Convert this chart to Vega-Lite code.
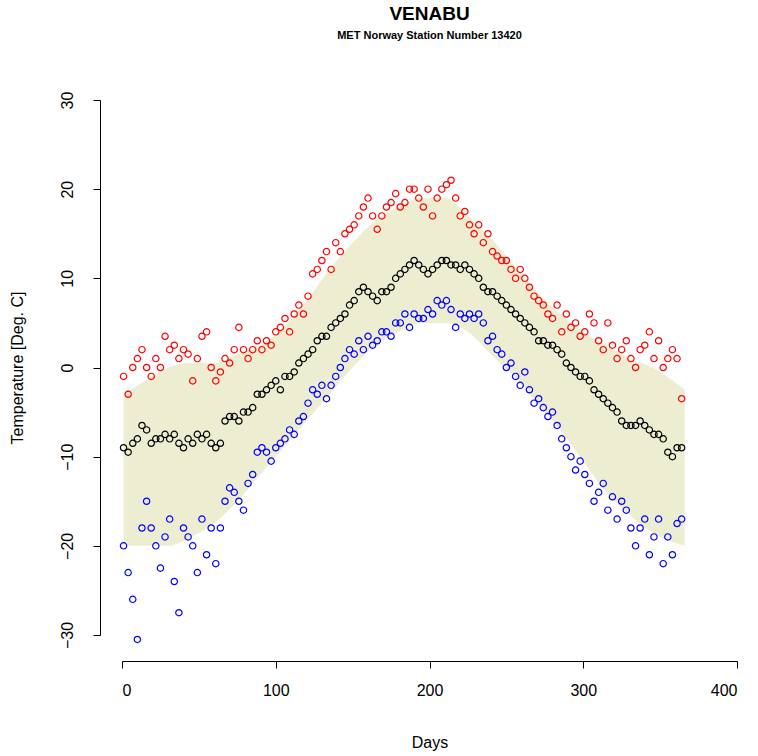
{
  "$schema": "https://vega.github.io/schema/vega-lite/v6.json",
  "width": 615,
  "height": 535,
  "autosize": {"type": "none"},
  "padding": {"left": 122, "top": 100, "right": 21, "bottom": 121},
  "title": {
    "text": "VENABU",
    "subtitle": "MET Norway Station Number 13420",
    "anchor": "middle",
    "offset": 50,
    "font": "Liberation Sans",
    "fontSize": 19,
    "fontWeight": "bold",
    "subtitleFont": "Liberation Sans",
    "subtitleFontSize": 11,
    "subtitleFontWeight": "bold",
    "subtitlePadding": 6,
    "color": "black",
    "subtitleColor": "black"
  },
  "datasets": {
    "band": [
      {"d": 1, "bl": -20, "bh": -3},
      {"d": 15, "bl": -20, "bh": -1.5},
      {"d": 30, "bl": -20, "bh": 0},
      {"d": 45, "bl": -19, "bh": 0.5},
      {"d": 60, "bl": -17.5, "bh": 0.5},
      {"d": 75, "bl": -15, "bh": 1.5},
      {"d": 90, "bl": -12, "bh": 2.5},
      {"d": 105, "bl": -9, "bh": 4.5},
      {"d": 120, "bl": -6, "bh": 7.5},
      {"d": 135, "bl": -3, "bh": 11},
      {"d": 150, "bl": 0, "bh": 14},
      {"d": 165, "bl": 2.5, "bh": 16.5},
      {"d": 180, "bl": 4, "bh": 18},
      {"d": 195, "bl": 5, "bh": 19},
      {"d": 210, "bl": 5, "bh": 19},
      {"d": 225, "bl": 4, "bh": 17},
      {"d": 240, "bl": 1.5, "bh": 14.5},
      {"d": 255, "bl": -1, "bh": 11.5},
      {"d": 270, "bl": -4, "bh": 8.5},
      {"d": 285, "bl": -7, "bh": 6},
      {"d": 300, "bl": -10.5, "bh": 4},
      {"d": 315, "bl": -14, "bh": 2.5},
      {"d": 330, "bl": -16.5, "bh": 1},
      {"d": 345, "bl": -18.5, "bh": 0},
      {"d": 366, "bl": -20, "bh": -2.5}
    ],
    "obs": [
      {"d":1,"hi":-1,"mn":-9,"lo":-20},{"d":4,"hi":-3,"mn":-9.5,"lo":-23},{"d":7,"hi":0,"mn":-8.5,"lo":-26},
      {"d":10,"hi":1,"mn":-8,"lo":-30.5},{"d":13,"hi":2,"mn":-6.5,"lo":-18},{"d":16,"hi":0,"mn":-7,"lo":-15},
      {"d":19,"hi":-1,"mn":-8.5,"lo":-18},{"d":22,"hi":1,"mn":-8,"lo":-20},{"d":25,"hi":0,"mn":-8,"lo":-22.5},
      {"d":28,"hi":3.5,"mn":-7.5,"lo":-19},{"d":31,"hi":2,"mn":-8,"lo":-17},{"d":34,"hi":2.5,"mn":-7.5,"lo":-24},
      {"d":37,"hi":1,"mn":-8.5,"lo":-27.5},{"d":40,"hi":2,"mn":-9,"lo":-18},{"d":43,"hi":1.5,"mn":-8,"lo":-19},
      {"d":46,"hi":-1.5,"mn":-8.5,"lo":-20},{"d":49,"hi":1,"mn":-7.5,"lo":-23},{"d":52,"hi":3.5,"mn":-8,"lo":-17},
      {"d":55,"hi":4,"mn":-7.5,"lo":-21},{"d":58,"hi":0,"mn":-8.5,"lo":-18},{"d":61,"hi":-1.5,"mn":-9,"lo":-22},
      {"d":64,"hi":-0.5,"mn":-8.5,"lo":-18},{"d":67,"hi":1,"mn":-6,"lo":-15},{"d":70,"hi":0.5,"mn":-5.5,"lo":-13.5},
      {"d":73,"hi":2,"mn":-5.5,"lo":-14},{"d":76,"hi":4.5,"mn":-6,"lo":-15},{"d":79,"hi":2,"mn":-5,"lo":-16},
      {"d":82,"hi":1,"mn":-5,"lo":-13},{"d":85,"hi":2,"mn":-4.5,"lo":-12},{"d":88,"hi":3,"mn":-3,"lo":-9.5},
      {"d":91,"hi":2,"mn":-3,"lo":-9},{"d":94,"hi":3,"mn":-2.5,"lo":-9.5},{"d":97,"hi":2.5,"mn":-2,"lo":-10.5},
      {"d":100,"hi":4,"mn":-1.5,"lo":-9},{"d":103,"hi":4.5,"mn":-2.5,"lo":-8.5},{"d":106,"hi":5.5,"mn":-1,"lo":-8},
      {"d":109,"hi":4,"mn":-1,"lo":-7},{"d":112,"hi":6,"mn":-0.5,"lo":-7.5},{"d":115,"hi":7,"mn":0.5,"lo":-6},
      {"d":118,"hi":6,"mn":1,"lo":-5.5},{"d":121,"hi":8,"mn":1.5,"lo":-4},{"d":124,"hi":10.5,"mn":2,"lo":-2.5},
      {"d":127,"hi":11,"mn":3,"lo":-3},{"d":130,"hi":12,"mn":3.5,"lo":-2},{"d":133,"hi":13,"mn":3.5,"lo":-3.5},
      {"d":136,"hi":11,"mn":4.5,"lo":-2},{"d":139,"hi":14,"mn":5,"lo":-1},{"d":142,"hi":13,"mn":5.5,"lo":0},
      {"d":145,"hi":15,"mn":6,"lo":1},{"d":148,"hi":15.5,"mn":7,"lo":2},{"d":151,"hi":16,"mn":7.5,"lo":1.5},
      {"d":154,"hi":17,"mn":8.5,"lo":3},{"d":157,"hi":18,"mn":9,"lo":2},{"d":160,"hi":19,"mn":8.5,"lo":3.5},
      {"d":163,"hi":17,"mn":8,"lo":2.5},{"d":166,"hi":15.5,"mn":7.5,"lo":3},{"d":169,"hi":17,"mn":8.5,"lo":4},
      {"d":172,"hi":18,"mn":8.5,"lo":4},{"d":175,"hi":18.5,"mn":9,"lo":3.5},{"d":178,"hi":19.5,"mn":10,"lo":5},
      {"d":181,"hi":18,"mn":10.5,"lo":5},{"d":184,"hi":18.5,"mn":11,"lo":6},{"d":187,"hi":20,"mn":11.5,"lo":4.5},
      {"d":190,"hi":20,"mn":12,"lo":6},{"d":193,"hi":19,"mn":11.5,"lo":5.5},{"d":196,"hi":18,"mn":11,"lo":5.5},
      {"d":199,"hi":20,"mn":10.5,"lo":6.5},{"d":202,"hi":17,"mn":11,"lo":6},{"d":205,"hi":19,"mn":11.5,"lo":7.5},
      {"d":208,"hi":20,"mn":12,"lo":7},{"d":211,"hi":20.5,"mn":12,"lo":7.5},{"d":214,"hi":21,"mn":11.5,"lo":6.5},
      {"d":217,"hi":19,"mn":11.5,"lo":4.5},{"d":220,"hi":17,"mn":11,"lo":6},{"d":223,"hi":17.5,"mn":11.5,"lo":5.5},
      {"d":226,"hi":16,"mn":11,"lo":6},{"d":229,"hi":15,"mn":10.5,"lo":5.5},{"d":232,"hi":16,"mn":10,"lo":6},
      {"d":235,"hi":14,"mn":9,"lo":5},{"d":238,"hi":15,"mn":8.5,"lo":3},{"d":241,"hi":13,"mn":8.5,"lo":3.5},
      {"d":244,"hi":12.5,"mn":8,"lo":2},{"d":247,"hi":12,"mn":7.5,"lo":1.5},{"d":250,"hi":12,"mn":7,"lo":0},
      {"d":253,"hi":11,"mn":6.5,"lo":0.5},{"d":256,"hi":10,"mn":6,"lo":-1},{"d":259,"hi":11,"mn":5.5,"lo":-2},
      {"d":262,"hi":10,"mn":5,"lo":-0.5},{"d":265,"hi":9,"mn":4.5,"lo":-2.5},{"d":268,"hi":8,"mn":4,"lo":-4},
      {"d":271,"hi":7.5,"mn":3,"lo":-3.5},{"d":274,"hi":7,"mn":3,"lo":-4.5},{"d":277,"hi":6,"mn":2.5,"lo":-5.5},
      {"d":280,"hi":5.5,"mn":2.5,"lo":-5},{"d":283,"hi":7,"mn":2,"lo":-6.5},{"d":286,"hi":4,"mn":1.5,"lo":-8},
      {"d":289,"hi":6,"mn":0.5,"lo":-9},{"d":292,"hi":4.5,"mn":0,"lo":-10},{"d":295,"hi":5,"mn":-0.5,"lo":-11.5},
      {"d":298,"hi":3.5,"mn":-1,"lo":-10.5},{"d":301,"hi":4,"mn":-1,"lo":-12},{"d":304,"hi":6,"mn":-1.5,"lo":-13},
      {"d":307,"hi":5,"mn":-2.5,"lo":-15},{"d":310,"hi":3,"mn":-3,"lo":-14},{"d":313,"hi":2,"mn":-3.5,"lo":-13},
      {"d":316,"hi":5,"mn":-4,"lo":-16},{"d":319,"hi":2.5,"mn":-4.5,"lo":-14.5},{"d":322,"hi":1,"mn":-5,"lo":-17},
      {"d":325,"hi":2,"mn":-6,"lo":-15},{"d":328,"hi":3,"mn":-6.5,"lo":-16},{"d":331,"hi":1,"mn":-6.5,"lo":-18},
      {"d":334,"hi":0,"mn":-6.5,"lo":-20},{"d":337,"hi":2,"mn":-6,"lo":-18},{"d":340,"hi":2.5,"mn":-6.5,"lo":-17},
      {"d":343,"hi":4,"mn":-7,"lo":-21},{"d":346,"hi":1,"mn":-7.5,"lo":-19},{"d":349,"hi":3,"mn":-7.5,"lo":-17},
      {"d":352,"hi":0,"mn":-8,"lo":-22},{"d":355,"hi":1,"mn":-9.5,"lo":-19},{"d":358,"hi":2,"mn":-10,"lo":-21},
      {"d":361,"hi":1,"mn":-9,"lo":-17.5},{"d":364,"hi":-3.5,"mn":-9,"lo":-17}
    ]
  },
  "encoding": {
    "x": {
      "field": "d", "type": "quantitative",
      "scale": {"domain": [0, 400], "nice": false, "zero": false},
      "axis": {
        "title": "Days", "values": [0, 100, 200, 300, 400], "offset": 26,
        "grid": false, "domainColor": "black", "tickColor": "black", "tickSize": 7,
        "labelFont": "Liberation Sans", "labelFontSize": 16, "labelColor": "black", "labelPadding": 14,
        "titleFont": "Liberation Sans", "titleFontSize": 16, "titleFontWeight": "normal", "titleColor": "black", "titlePadding": 36
      }
    }
  },
  "layer": [
    {
      "data": {"name": "band"},
      "mark": {"type": "area", "color": "#EDEDD2", "opacity": 1, "interpolate": "monotone"},
      "encoding": {
        "y": {
          "field": "bl", "type": "quantitative",
          "scale": {"domain": [-30, 30], "nice": false},
          "axis": {
            "title": "Temperature [Deg. C]", "values": [-30, -20, -10, 0, 10, 20, 30], "offset": 22,
            "grid": false, "domainColor": "black", "tickColor": "black", "tickSize": 7,
            "labelAngle": -90, "labelAlign": "center", "labelBaseline": "bottom",
            "labelFont": "Liberation Sans", "labelFontSize": 16, "labelColor": "black", "labelPadding": 18,
            "titleFont": "Liberation Sans", "titleFontSize": 16, "titleFontWeight": "normal", "titleColor": "black", "titlePadding": 34
          }
        },
        "y2": {"field": "bh"}
      }
    },
    {
      "data": {"name": "obs"},
      "mark": {"type": "point", "shape": "circle", "filled": false, "color": "#FF0000", "opacity": 1, "size": 40, "strokeWidth": 1.2},
      "encoding": {"y": {"field": "hi", "type": "quantitative"}}
    },
    {
      "data": {"name": "obs"},
      "mark": {"type": "point", "shape": "circle", "filled": false, "color": "black", "opacity": 1, "size": 40, "strokeWidth": 1.2},
      "encoding": {"y": {"field": "mn", "type": "quantitative"}}
    },
    {
      "data": {"name": "obs"},
      "mark": {"type": "point", "shape": "circle", "filled": false, "color": "#0000FF", "opacity": 1, "size": 40, "strokeWidth": 1.2},
      "encoding": {"y": {"field": "lo", "type": "quantitative"}}
    }
  ],
  "config": {"view": {"stroke": null}, "background": "white"}
}
